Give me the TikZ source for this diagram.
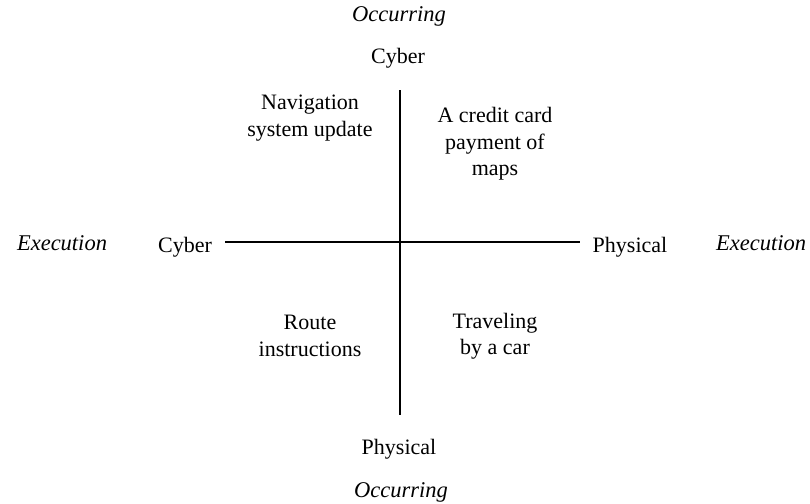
\documentclass[tikz,border=0pt]{standalone}
\usepackage{fontspec}
\setmainfont{Liberation Serif}
\begin{document}
\begin{tikzpicture}[x=1pt,y=-1pt,
  lbl/.style={font=\fontsize{22}{26.5}\selectfont, align=center, inner sep=0pt, anchor=center},
  ital/.style={lbl, font=\fontsize{22.5}{26.5}\selectfont\itshape},
  axis/.style={line width=1.5pt}]
\useasboundingbox (0,0) rectangle (810,503);
\coordinate (vt) at (400,90);
\coordinate (vb) at (400,415);
\coordinate (hl) at (225,242);
\coordinate (hr) at (580,242);
\draw[axis] (vt) -- (vb);
\draw[axis] (hl) -- (hr);
\node[ital] (occT) at (399,16) {Occurring};
\node[lbl] (cyT) at (398,58) {Cyber};
\node[lbl] (cyL) at (185,247) {Cyber};
\node[ital] (exL) at (62,243) {Execution};
\node[lbl] (phR) at (630,247) {Physical};
\node[ital] (exR) at (761,243) {Execution};
\node[lbl] (phB) at (399,449) {Physical};
\node[ital] (occB) at (401,492) {Occurring};
\node[lbl] (q1) at (310,118) {Navigation\\system update};
\node[lbl] (q2) at (495,144) {A credit card\\payment of\\maps};
\node[lbl] (q3) at (310,336) {Route\\instructions};
\node[lbl] (q4) at (495,336) {Traveling\\by a car};
\end{tikzpicture}
\end{document}
